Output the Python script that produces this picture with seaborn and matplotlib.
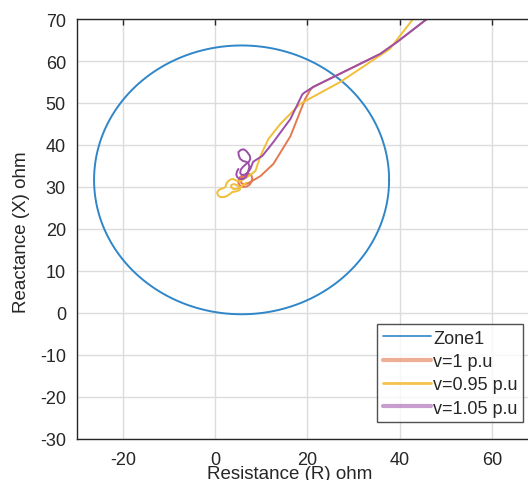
import numpy as np
import pandas as pd
import matplotlib
matplotlib.use("Agg")
import matplotlib.pyplot as plt
from matplotlib.lines import Line2D
import seaborn as sns

# Zone 1 mho circle (ohm)
zone_center_r = 5.7
zone_center_x = 31.7
zone_radius = 32.0

# Impedance trajectories seen by the relay, R and X in ohm
r_v100 = [45.9, 39.4, 35.8, 21.2, 20.6, 19.5, 16.3, 12.6, 9.8, 8.7, 7.6, 6.9, 6.2, 5.6, 5.7, 6.1,
          6.8, 7.4, 7.9, 8.0, 7.8, 7.4, 6.8, 6.1, 5.4, 5.0, 5.1, 5.4, 5.9, 6.3]
x_v100 = [70.0, 64.5, 61.7, 53.8, 53.1, 51.0, 42.1, 35.5, 32.6, 31.9, 31.2, 30.8, 30.6, 31.0, 31.9, 32.6,
          33.1, 33.1, 32.6, 31.9, 31.1, 30.5, 30.1, 30.0, 30.3, 31.0, 31.8, 32.4, 32.7, 32.6]

r_v095 = [42.9, 39.0, 37.9, 27.1, 18.4, 14.1, 11.5, 9.8, 8.7, 7.2, 6.2, 5.4, 4.6, 3.9, 3.3, 2.8,
          2.4, 2.2, 1.7, 1.1, 0.6, 0.4, 0.6, 1.1, 1.9, 2.6, 3.2, 3.7, 4.2, 4.6, 5.1, 5.4, 5.1,
          4.6, 4.0, 3.5, 3.4, 3.9, 4.7, 5.4, 6.1, 6.7]
x_v095 = [70.0, 64.5, 62.9, 55.0, 49.8, 45.0, 41.4, 37.4, 33.8, 32.6, 31.9, 31.4, 31.5, 31.9, 31.8, 31.4,
          30.8, 30.0, 29.7, 29.5, 29.1, 28.6, 28.0, 27.6, 27.6, 27.9, 28.4, 28.8, 28.9, 29.0, 29.2, 29.5, 30.1,
          30.5, 30.7, 30.5, 30.0, 29.5, 29.6, 30.0, 30.5, 31.0]

r_v105 = [45.9, 39.4, 35.8, 21.2, 19.5, 18.9, 16.3, 12.6, 10.2, 8.2, 7.6, 7.0, 6.3, 5.7, 5.4, 5.5,
          6.0, 6.7, 7.3, 7.6, 7.5, 7.2, 6.7, 6.1, 5.5, 5.0, 5.1, 5.4, 6.0, 6.7, 7.2, 7.4, 7.1,
          6.7, 6.0, 5.4, 4.8, 4.55, 4.7, 5.0]
x_v105 = [70.0, 64.5, 61.7, 53.8, 52.6, 52.1, 46.2, 40.7, 37.4, 36.0, 34.3, 33.4, 32.9, 32.9, 33.3, 34.1,
          34.8, 35.5, 36.0, 36.7, 37.4, 37.9, 38.6, 39.0, 38.8, 38.3, 37.5, 36.7, 36.2, 36.0, 35.6, 34.8, 33.6,
          32.4, 31.9, 31.9, 32.3, 32.9, 33.7, 34.3]

series_names = ["Zone1", "v=1 p.u", "v=0.95 p.u", "v=1.05 p.u"]
series_colors = ["#2F86C8", "#E4794F", "#F2BE3A", "#9B4FA8"]

x_ticks = [-20, 0, 20, 40, 60]
y_ticks = [-30, -20, -10, 0, 10, 20, 30, 40, 50, 60, 70]

theta = np.linspace(0, 2 * np.pi, 361)
circle = pd.DataFrame({
    "R": zone_center_r + zone_radius * np.cos(theta),
    "X": zone_center_x + zone_radius * np.sin(theta),
    "case": "Zone1",
})
traj = pd.concat([
    pd.DataFrame({"R": r_v100, "X": x_v100, "case": "v=1 p.u"}),
    pd.DataFrame({"R": r_v095, "X": x_v095, "case": "v=0.95 p.u"}),
    pd.DataFrame({"R": r_v105, "X": x_v105, "case": "v=1.05 p.u"}),
], ignore_index=True)

sns.set_theme(style="white")
plt.rcParams["font.family"] = ["Liberation Sans", "DejaVu Sans"]
plt.rcParams["axes.unicode_minus"] = False

fig = plt.figure(figsize=(5.28, 4.81), dpi=100)
ax = fig.add_axes([77 / 528, 41 / 481, 461 / 528, 420 / 481])

palette = dict(zip(series_names, series_colors))
sns.lineplot(data=circle, x="R", y="X", hue="case", palette=palette, sort=False,
             estimator=None, lw=1.4, ax=ax, legend=False)
sns.lineplot(data=traj, x="R", y="X", hue="case", palette=palette, sort=False,
             estimator=None, lw=1.4, ax=ax, legend=False,
             hue_order=["v=1 p.u", "v=0.95 p.u", "v=1.05 p.u"])

ax.set_xlim(-30, 70)
ax.set_ylim(-30, 70)
ax.set_xticks(x_ticks)
ax.set_yticks(y_ticks)
ax.grid(True, color="#DCDCDC", lw=1.0)
ax.set_axisbelow(True)
for s in ax.spines.values():
    s.set_color("#262626")
    s.set_linewidth(1.0)
ax.tick_params(axis="both", which="both", direction="in", length=4, width=1.0,
               colors="#262626", labelsize=13, top=True, right=True)
ax.tick_params(axis="x", pad=9)
ax.tick_params(axis="y", pad=8)
ax.set_xlabel("")
ax.set_ylabel("")

fig.text(290 / 528, 1 - 466 / 481, "Resistance (R) ohm", ha="center", va="top",
         fontsize=13.5, color="#262626")
fig.text(22 / 528, 1 - 232 / 481, "Reactance (X) ohm", ha="center", va="center",
         rotation=90, fontsize=13.5, color="#262626")

handles = [
    Line2D([], [], color=series_colors[0], lw=1.2),
    Line2D([], [], color=series_colors[1], lw=3, alpha=0.6),
    Line2D([], [], color=series_colors[2], lw=2, alpha=0.9),
    Line2D([], [], color=series_colors[3], lw=3, alpha=0.55),
]
leg = ax.legend(handles, series_names, loc="lower right",
                bbox_to_anchor=(523 / 528, 1 - 423 / 481), bbox_transform=fig.transFigure,
                borderaxespad=0, fancybox=False, frameon=True, fontsize=13,
                handlelength=2.7, handletextpad=0.1, labelspacing=0.35,
                borderpad=0.3)
leg.get_frame().set_edgecolor("#262626")
leg.get_frame().set_linewidth(1.0)
for t in leg.get_texts():
    t.set_color("#262626")

fig.savefig("out.png", dpi=100)
